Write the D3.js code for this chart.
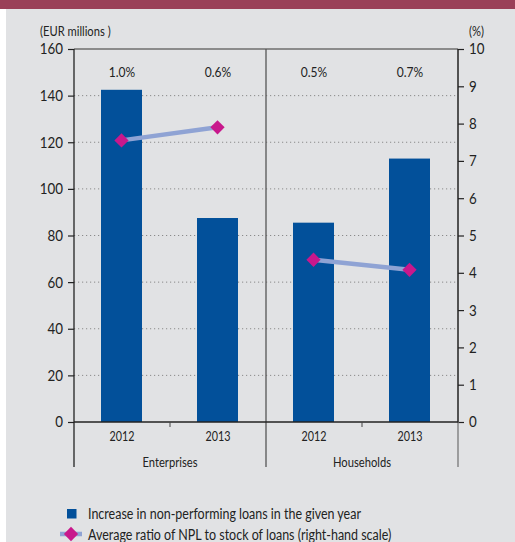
<!DOCTYPE html>
<html>
<head>
<meta charset="utf-8">
<script src="https://cdn.jsdelivr.net/npm/d3@7"></script>
<style>
  html, body { margin: 0; padding: 0; background: #fff; }
  svg text { font-family: Lato, "Noto Sans", sans-serif; fill: #222; }
</style>
</head>
<body>
<svg id="chart" width="515" height="542"></svg>
<script>
// Sectors and years along the bottom
const sectors = ["Enterprises", "Households"];
const years = ["2012", "2013"];
// Increase in NPLs, EUR millions (one value per sector/year)
const nplIncrease = [142.5, 87.5, 85.5, 113];
// Average NPL ratio, % (right-hand scale)
const nplRatio = [7.55, 7.9, 4.35, 4.08];
// Labels printed above each pair of bars
const topLabels = ["1.0%", "0.6%", "0.5%", "0.7%"];
const leftTicks = [0, 20, 40, 60, 80, 100, 120, 140, 160];
const rightTicks = [0, 1, 2, 3, 4, 5, 6, 7, 8, 9, 10];

const rows = [];
sectors.forEach((s, i) => years.forEach((y, j) => {
  const k = i * years.length + j;
  rows.push({ key: s + "|" + y, sector: s, year: y, value: nplIncrease[k], ratio: nplRatio[k], label: topLabels[k] });
}));

const svg = d3.select("#chart");
const W = 515, H = 542;
const m = { left: 74, right: 458, top: 49, bottom: 422 };

// panel background and header band
svg.append("rect").attr("x", 6).attr("y", 0).attr("width", W - 6).attr("height", H).attr("fill", "#e1e2e4");
svg.append("rect").attr("x", 0).attr("y", 0).attr("width", W).attr("height", 9).attr("fill", "#9a4058");

const x = d3.scaleBand().domain(rows.map(d => d.key)).range([m.left, m.right]);
const xs = d3.scaleBand().domain(sectors).range([m.left, m.right]);
const yL = d3.scaleLinear().domain([0, 160]).range([m.bottom, m.top]);
const yR = d3.scaleLinear().domain([0, 10]).range([m.bottom, m.top]);

// dotted gridlines
svg.append("g").selectAll("line").data(leftTicks.filter(t => t > 0 && t < 160)).join("line")
  .attr("x1", m.left).attr("x2", m.right)
  .attr("y1", d => yL(d)).attr("y2", d => yL(d))
  .attr("stroke", "#8a8a8a").attr("stroke-width", 1).attr("stroke-dasharray", "1.2,2.8");

// top frame line and sector divider
svg.append("line").attr("x1", m.left).attr("x2", m.right).attr("y1", m.top).attr("y2", m.top)
  .attr("stroke", "#6e6e6e").attr("stroke-width", 1.3);
svg.append("line").attr("x1", xs("Households")).attr("x2", xs("Households")).attr("y1", m.top).attr("y2", 467)
  .attr("stroke", "#555").attr("stroke-width", 1.3);

// bars
const bw = 41;
svg.append("g").selectAll("rect").data(rows).join("rect")
  .attr("x", d => x(d.key) + x.bandwidth() / 2 - bw / 2 - 0.5)
  .attr("width", bw)
  .attr("y", d => yL(d.value))
  .attr("height", d => yL(0) - yL(d.value))
  .attr("fill", "#02509a");

// labels above bars
svg.append("g").selectAll("text").data(rows).join("text")
  .attr("x", d => x(d.key) + x.bandwidth() / 2)
  .attr("y", 77)
  .attr("text-anchor", "middle").attr("font-size", 14)
  .text(d => d.label);

// ratio lines, one per sector
const line = d3.line().x(d => x(d.key) + x.bandwidth() / 2 - 0.5).y(d => yR(d.ratio));
sectors.forEach(s => {
  svg.append("path").datum(rows.filter(d => d.sector === s))
    .attr("d", line).attr("fill", "none").attr("stroke", "#8fa3d4").attr("stroke-width", 4.5);
});
const diamond = d3.symbol().type(d3.symbolDiamond2).size(130);
svg.append("g").selectAll("path").data(rows).join("path")
  .attr("transform", d => `translate(${x(d.key) + x.bandwidth() / 2 - 0.5},${yR(d.ratio)})`)
  .attr("d", diamond).attr("fill", "#c8188c");

// left axis
const gL = svg.append("g").attr("transform", `translate(${m.left},0)`)
  .call(d3.axisLeft(yL).tickValues(leftTicks).tickSize(6).tickPadding(5));
gL.select(".domain").remove();
gL.selectAll(".tick line").attr("stroke", "#222").attr("stroke-width", 1.2);
gL.selectAll(".tick text").attr("font-size", 15.5).attr("fill", "#222");
svg.append("line").attr("x1", m.left).attr("x2", m.left).attr("y1", m.top).attr("y2", 467)
  .attr("stroke", "#222").attr("stroke-width", 1.3);

// right axis
const gR = svg.append("g").attr("transform", `translate(${m.right},0)`)
  .call(d3.axisRight(yR).tickValues(rightTicks).tickSize(6).tickPadding(5));
gR.select(".domain").remove();
gR.selectAll(".tick line").attr("stroke", "#222").attr("stroke-width", 1.2);
gR.selectAll(".tick text").attr("font-size", 15.5).attr("fill", "#222");
svg.append("line").attr("x1", m.right).attr("x2", m.right).attr("y1", m.top).attr("y2", m.bottom)
  .attr("stroke", "#222").attr("stroke-width", 1.5);
svg.append("line").attr("x1", m.right).attr("x2", m.right).attr("y1", m.bottom).attr("y2", 467)
  .attr("stroke", "#777").attr("stroke-width", 1.3);

// baseline
svg.append("line").attr("x1", m.left).attr("x2", m.right).attr("y1", m.bottom).attr("y2", m.bottom)
  .attr("stroke", "#222").attr("stroke-width", 1.3);

// minor ticks between years within each sector
svg.append("g").selectAll("line").data(sectors).join("line")
  .attr("x1", d => xs(d) + xs.bandwidth() / 2).attr("x2", d => xs(d) + xs.bandwidth() / 2)
  .attr("y1", m.bottom).attr("y2", m.bottom + 5)
  .attr("stroke", "#444").attr("stroke-width", 1);

// year labels
svg.append("g").selectAll("text").data(rows).join("text")
  .attr("x", d => x(d.key) + x.bandwidth() / 2)
  .attr("y", 441)
  .attr("text-anchor", "middle").attr("font-size", 12.5)
  .text(d => d.year);

// sector labels
svg.append("g").selectAll("text").data(sectors).join("text")
  .attr("x", d => xs(d) + xs.bandwidth() / 2)
  .attr("y", 467)
  .attr("text-anchor", "middle").attr("font-size", 13)
  .text(d => d);

// unit captions
svg.append("text").attr("x", 40).attr("y", 36).attr("font-size", 13).text("(EUR millions )");
svg.append("text").attr("x", 484).attr("y", 36).attr("text-anchor", "end").attr("font-size", 13).text("(%)");

// legend
const lg = svg.append("g");
lg.append("rect").attr("x", 67).attr("y", 509).attr("width", 9.5).attr("height", 9.5).attr("fill", "#02509a");
lg.append("text").attr("x", 88).attr("y", 518.5).attr("font-size", 14.5).text("Increase in non-performing loans in the given year");
lg.append("line").attr("x1", 60).attr("x2", 82).attr("y1", 534).attr("y2", 534)
  .attr("stroke", "#8fa3d4").attr("stroke-width", 4.5);
lg.append("path").attr("transform", "translate(71,534)").attr("d", diamond).attr("fill", "#c8188c");
lg.append("text").attr("x", 88).attr("y", 540).attr("font-size", 14.5).text("Average ratio of NPL to stock of loans (right-hand scale)");

// narrow every label horizontally to a semi-condensed set width
svg.selectAll("text").each(function () {
  const len = this.getComputedTextLength();
  d3.select(this).attr("textLength", len * 0.86).attr("lengthAdjust", "spacingAndGlyphs");
});
</script>
</body>
</html>
